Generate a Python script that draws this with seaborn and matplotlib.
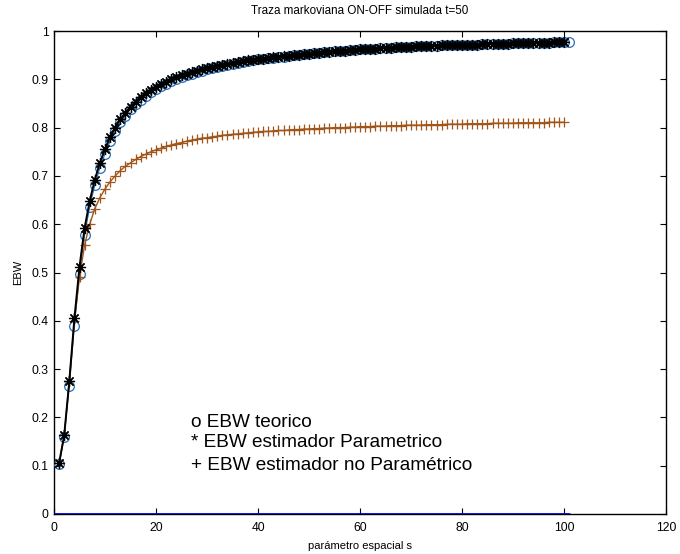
import numpy as np
import pandas as pd
import matplotlib
matplotlib.use("Agg")
import matplotlib.pyplot as plt
import seaborn as sns

# ---- data ----
s_teo = list(range(1, 102))
ebw_teorico = [
    0.103, 0.160, 0.265, 0.390, 0.497, 0.578, 0.636, 0.681, 0.717, 0.746,
    0.772, 0.793, 0.811, 0.825, 0.838, 0.849, 0.858, 0.866, 0.873, 0.880,
    0.886, 0.891, 0.896, 0.900, 0.904, 0.908, 0.912, 0.915, 0.918, 0.921,
    0.923, 0.926, 0.928, 0.930, 0.932, 0.934, 0.936, 0.938, 0.939, 0.941,
    0.942, 0.944, 0.945, 0.946, 0.947, 0.949, 0.950, 0.951, 0.952, 0.953,
    0.954, 0.955, 0.956, 0.957, 0.958, 0.959, 0.959, 0.960, 0.961, 0.962,
    0.962, 0.963, 0.963, 0.964, 0.965, 0.965, 0.966, 0.966, 0.967, 0.967,
    0.968, 0.968, 0.968, 0.969, 0.969, 0.970, 0.970, 0.970, 0.971, 0.971,
    0.972, 0.972, 0.972, 0.973, 0.973, 0.973, 0.974, 0.974, 0.974, 0.975,
    0.975, 0.975, 0.975, 0.976, 0.976, 0.976, 0.976, 0.977, 0.977, 0.977,
    0.977,
]
s_est = list(range(1, 101))
ebw_parametrico = [
    0.105, 0.163, 0.275, 0.405, 0.512, 0.592, 0.648, 0.692, 0.727, 0.755,
    0.780, 0.800, 0.817, 0.831, 0.843, 0.854, 0.863, 0.871, 0.878, 0.885,
    0.890, 0.895, 0.900, 0.904, 0.908, 0.912, 0.915, 0.918, 0.921, 0.923,
    0.926, 0.928, 0.930, 0.932, 0.934, 0.936, 0.937, 0.939, 0.940, 0.942,
    0.943, 0.945, 0.946, 0.947, 0.948, 0.949, 0.950, 0.951, 0.952, 0.953,
    0.954, 0.955, 0.956, 0.957, 0.958, 0.959, 0.959, 0.960, 0.961, 0.962,
    0.962, 0.963, 0.963, 0.964, 0.965, 0.965, 0.966, 0.966, 0.967, 0.967,
    0.968, 0.968, 0.968, 0.969, 0.969, 0.970, 0.970, 0.970, 0.971, 0.971,
    0.972, 0.972, 0.972, 0.973, 0.973, 0.973, 0.974, 0.974, 0.974, 0.975,
    0.975, 0.975, 0.975, 0.976, 0.976, 0.976, 0.976, 0.977, 0.977, 0.977,
]
ebw_no_parametrico = [
    0.105, 0.163, 0.275, 0.400, 0.490, 0.557, 0.600, 0.632, 0.655, 0.673,
    0.688, 0.700, 0.711, 0.720, 0.727, 0.734, 0.740, 0.745, 0.750, 0.754,
    0.757, 0.761, 0.764, 0.767, 0.769, 0.772, 0.774, 0.776, 0.778, 0.779,
    0.781, 0.782, 0.784, 0.785, 0.786, 0.787, 0.788, 0.789, 0.790, 0.791,
    0.792, 0.792, 0.793, 0.794, 0.794, 0.795, 0.796, 0.796, 0.797, 0.797,
    0.798, 0.798, 0.799, 0.799, 0.800, 0.800, 0.800, 0.801, 0.801, 0.802,
    0.802, 0.802, 0.803, 0.803, 0.803, 0.804, 0.804, 0.804, 0.805, 0.805,
    0.805, 0.805, 0.806, 0.806, 0.806, 0.806, 0.807, 0.807, 0.807, 0.807,
    0.808, 0.808, 0.808, 0.808, 0.808, 0.809, 0.809, 0.809, 0.809, 0.809,
    0.810, 0.810, 0.810, 0.810, 0.810, 0.810, 0.811, 0.811, 0.811, 0.811,
]
s_base = [0, 101]
base = [0.0, 0.0]

title = "Traza markoviana ON-OFF simulada t=50"
xlabel = "parámetro espacial s"
ylabel = "EBW"
legend_lines = ["o EBW teorico", "* EBW estimador Parametrico",
                "+ EBW estimador no Paramétrico"]
xticks = [0, 20, 40, 60, 80, 100, 120]
yticks = [0, 0.1, 0.2, 0.3, 0.4, 0.5, 0.6, 0.7, 0.8, 0.9, 1]
ytick_labels = ["0", "0.1", "0.2", "0.3", "0.4", "0.5", "0.6", "0.7", "0.8", "0.9", "1"]

sns.set_style("white")
plt.rcParams["font.family"] = ["Liberation Sans", "DejaVu Sans"]
plt.rcParams["text.color"] = "black"
plt.rcParams["axes.labelcolor"] = "black"

fig = plt.figure(figsize=(6.8, 5.54), dpi=100)
ax = fig.add_axes([54 / 680, 1 - 514 / 554, (666 - 54) / 680, (514 - 31) / 554])

blue_m = "#2a6db5"
brown = "#a0561a"

sns.lineplot(x=s_teo, y=ebw_teorico, ax=ax, color=blue_m, linewidth=0.8,
             marker="o", markersize=7, markerfacecolor="none",
             markeredgecolor=blue_m, markeredgewidth=0.9, zorder=3)
sns.lineplot(x=s_est, y=ebw_no_parametrico, ax=ax, color=brown, linewidth=1.0,
             marker="+", markersize=7, markeredgecolor=brown,
             markeredgewidth=0.9, zorder=3)
sns.lineplot(x=s_est, y=ebw_parametrico, ax=ax, color="black", linewidth=1.4,
             marker=(8, 2, 0), markersize=8, markerfacecolor="none",
             markeredgecolor="black", markeredgewidth=0.9, zorder=4)
sns.lineplot(x=s_base, y=base, ax=ax, color="#0000ff", linewidth=2.0, zorder=5)

ax.set_xlim(0, 120)
ax.set_ylim(0, 1)
ax.set_xticks(xticks)
ax.set_xticklabels([str(t) for t in xticks])
ax.set_yticks(yticks)
ax.set_yticklabels(ytick_labels)
ax.tick_params(direction="in", length=4, width=0.8, labelsize=8.7,
               top=True, right=True, bottom=True, left=True, colors="black")
ax.tick_params(axis="x", pad=6)
ax.tick_params(axis="y", pad=4)
for sp in ax.spines.values():
    sp.set_visible(True)
    sp.set_color("black")
    sp.set_linewidth(1.0)
ax.set_title(title, fontsize=8.4, pad=12, color="black")
ax.set_xlabel(xlabel, fontsize=8, labelpad=5, color="black")
ax.set_ylabel(ylabel, fontsize=8, labelpad=6, color="black")

ys = [0.189, 0.147, 0.101]
for t, y in zip(legend_lines, ys):
    ax.text(26.8, y, t, fontsize=13.7, va="center", ha="left", color="black")

fig.savefig("out.png", dpi=100)
